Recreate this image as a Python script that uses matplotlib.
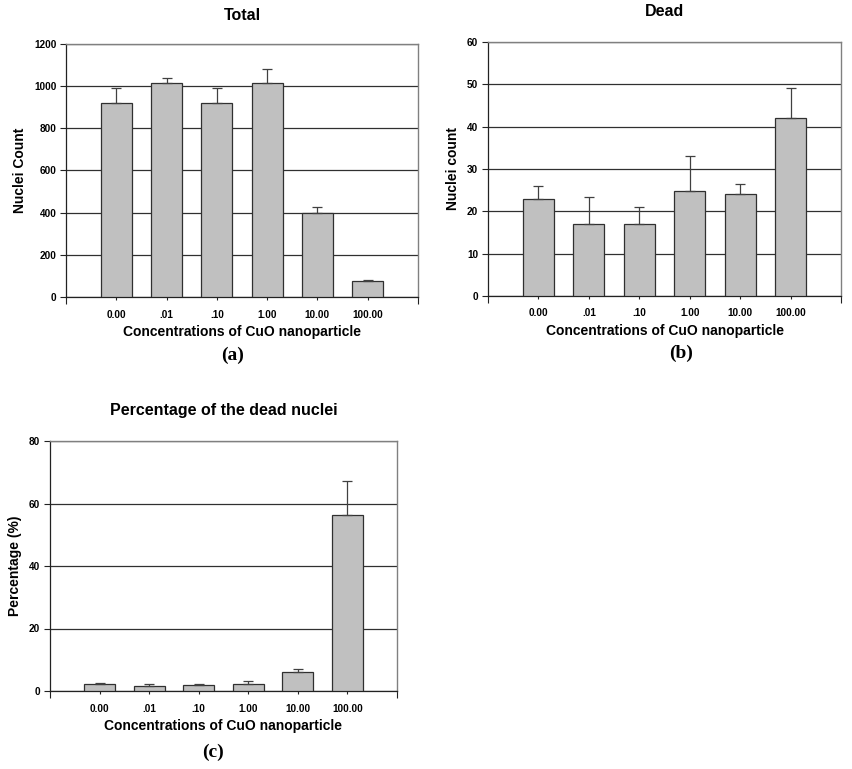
import matplotlib.pyplot as plt
import numpy as np

plt.rcParams['font.family'] = ['Liberation Sans', 'DejaVu Sans']

categories = ["0.00", ".01", ".10", "1.00", "10.00", "100.00"]

total_mean = [920, 1013, 920, 1013, 398, 74]
total_err = [73, 28, 73, 67, 27, 8]

dead_mean = [23, 17, 17, 24.7, 24, 42]
dead_err = [3, 6.5, 4, 8.4, 2.5, 7.1]

pct_mean = [2.4, 1.7, 1.9, 2.4, 6.1, 56.4]
pct_err = [0.2, 0.7, 0.2, 0.7, 1.1, 10.9]

fig = plt.figure(figsize=(8.53, 7.69), dpi=100)
W, H = 853, 769


def add_panel(box, means, errs, ymax, ystep, title, ylabel, letter, letter_xy, title_y):
    # box = (left, top, right, bottom) in pixels
    l, t, r, b = box
    ax = fig.add_axes([l / W, 1 - b / H, (r - l) / W, (b - t) / H])
    x = np.arange(len(categories))
    ax.bar(x, means, width=0.62, color='#c0c0c0', edgecolor='#303030',
           linewidth=0.9, zorder=3)
    ax.errorbar(x, means, yerr=[np.zeros(len(errs)), errs], fmt='none',
                ecolor='#404040', elinewidth=0.9, capsize=3.5, capthick=0.9,
                zorder=4)
    ax.set_xlim(-1, 6)
    ax.set_ylim(0, ymax)
    ax.set_yticks(np.arange(0, ymax + 0.1, ystep))
    ax.yaxis.grid(True, color='#303030', linewidth=0.9, zorder=0)
    ax.set_axisbelow(True)
    ax.set_xticks(x)
    ax.set_xticklabels(categories)
    ax.set_xticks([-1, 6], minor=True)
    ax.tick_params(axis='x', which='major', length=2, width=0.8, pad=7,
                   labelsize=7.2, colors='#222222')
    ax.tick_params(axis='x', which='minor', length=5, width=0.8, colors='#222222')
    ax.tick_params(axis='y', length=4, width=0.8, labelsize=7.2, pad=3,
                   colors='#222222')
    for lab in ax.get_xticklabels() + ax.get_yticklabels():
        lab.set_fontweight('bold')
        lab.set_color('black')
    for s in ['left', 'bottom']:
        ax.spines[s].set_color('#222222')
        ax.spines[s].set_linewidth(0.9)
    for s in ['top', 'right']:
        ax.spines[s].set_color('#808080')
        ax.spines[s].set_linewidth(1.0)
    ax.set_xlabel("Concentrations of CuO nanoparticle", fontsize=10,
                  fontweight='bold', labelpad=4)
    ax.set_ylabel(ylabel, fontsize=10, fontweight='bold', labelpad=5)
    fig.text((l + r) / 2 / W, 1 - title_y / H, title, ha='center', va='center',
             fontsize=11.5, fontweight='bold')
    fig.text(letter_xy[0] / W, 1 - letter_xy[1] / H, letter, ha='center',
             va='center', fontsize=14, fontweight='bold',
             family=['Liberation Serif', 'DejaVu Serif'])
    return ax


add_panel((66, 44, 418, 297), total_mean, total_err, 1200, 200,
          "Total", "Nuclei Count", "(a)", (233, 355), 16)
add_panel((488, 42, 841, 296), dead_mean, dead_err, 60, 10,
          "Dead", "Nuclei count", "(b)", (681, 353), 12)
add_panel((50, 441, 397, 691), pct_mean, pct_err, 80, 20,
          "Percentage of the dead nuclei", "Percentage (%)", "(c)", (213, 752), 411)

fig.savefig("out.png", dpi=100)
